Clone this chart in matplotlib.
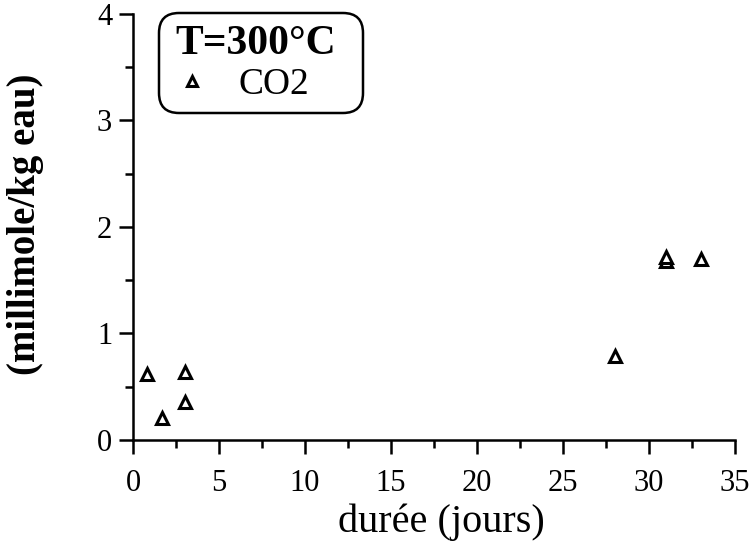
import matplotlib.pyplot as plt
from matplotlib.patches import FancyBboxPatch
from matplotlib.ticker import MultipleLocator

# CO2 concentration vs duration, T=300°C
duree = [0.8, 1.7, 3.0, 3.0, 28.0, 31.0, 31.0, 33.0]
co2 = [0.62, 0.21, 0.64, 0.36, 0.79, 1.68, 1.72, 1.70]

plt.rcParams['font.family'] = ['Liberation Serif', 'DejaVu Serif']

fig = plt.figure(figsize=(7.53, 5.51), dpi=100)
ax = fig.add_axes([0.1766, 0.2015, 0.7994, 0.7731])

ax.plot(duree, co2, linestyle='none', marker='^', markersize=8,
        markerfacecolor='white', markeredgecolor='black', markeredgewidth=2.2,
        label='CO2')

ax.set_xlim(0, 35)
ax.set_ylim(0, 4)
ax.xaxis.set_major_locator(MultipleLocator(5))
ax.xaxis.set_minor_locator(MultipleLocator(2.5))
ax.yaxis.set_major_locator(MultipleLocator(1))
ax.yaxis.set_minor_locator(MultipleLocator(0.5))

for side in ['top', 'right']:
    ax.spines[side].set_visible(False)
for side in ['left', 'bottom']:
    ax.spines[side].set_linewidth(1.8)

ax.tick_params(which='major', direction='out', length=10, width=1.8, labelsize=22, pad=5)
ax.tick_params(axis='x', which='major', pad=11)
ax.tick_params(which='minor', direction='out', length=6, width=1.8)

ax.set_xlabel('durée (jours)', fontsize=29)
ax.xaxis.set_label_coords(0.512, -0.148)
ax.set_ylabel('(millimole/kg eau)', fontsize=28, fontweight='bold')
ax.yaxis.set_label_coords(-0.148, 0.507)

# legend: title text + single entry, rounded box drawn separately
fig.text(175 / 753, 1 - 54 / 551, 'T=300°C', fontsize=30, fontweight='bold',
         ha='left', va='baseline')
leg = ax.legend(loc='center left', bbox_to_anchor=(177 / 753, 1 - 84.4 / 551),
                bbox_transform=fig.transFigure, fontsize=27, frameon=False,
                handlelength=0.8, handletextpad=0.83, borderpad=0,
                markerscale=0.85, borderaxespad=0)
box = FancyBboxPatch((1.59, 4.38), 2.04, 1.0, boxstyle='round,pad=0,rounding_size=0.2',
                     transform=fig.dpi_scale_trans, facecolor='none',
                     edgecolor='black', linewidth=1.8)
fig.patches.append(box)

fig.savefig('out.png', dpi=100)
